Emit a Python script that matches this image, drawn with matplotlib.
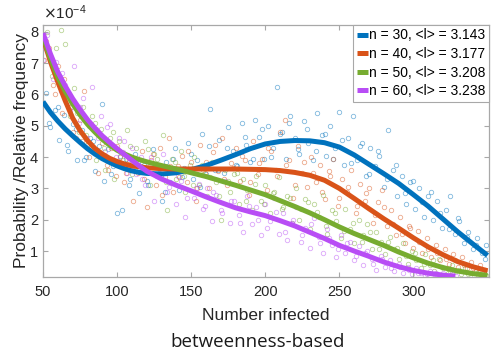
import matplotlib
matplotlib.use("Agg")
import matplotlib.pyplot as plt

# ---------------------------------------------------------------------------
# Data (probability values in units of 1e-4)
# ---------------------------------------------------------------------------
labels = ["n = 30, <l> = 3.143", "n = 40, <l> = 3.177",
          "n = 50, <l> = 3.208", "n = 60, <l> = 3.238"]
colors = ["#0072BD", "#D95319", "#77AC30", "#B84DF5"]

# fitted curves
fit_x = [50, 55, 60, 65, 70, 75, 80, 85, 90, 95, 100, 105, 110, 115, 120,
         130, 140, 150, 160, 170, 180, 190, 200, 210, 220, 230, 240, 250,
         260, 270, 280, 290, 300, 310, 320, 330, 340, 350]
fit_blue = [5.77, 5.43, 5.15, 4.90, 4.68, 4.47, 4.27, 4.10, 3.95, 3.83, 3.72,
            3.63, 3.56, 3.51, 3.48, 3.46, 3.50, 3.60, 3.73, 3.90, 4.08, 4.27,
            4.42, 4.50, 4.53, 4.52, 4.46, 4.32, 4.07, 3.77, 3.47, 3.16, 2.80,
            2.43, 2.02, 1.61, 1.23, 0.86]
fit_orange = [7.80, 7.05, 6.40, 5.80, 5.25, 4.85, 4.53, 4.28, 4.10, 3.96,
              3.86, 3.78, 3.72, 3.69, 3.66, 3.63, 3.62, 3.62, 3.62, 3.62,
              3.62, 3.61, 3.60, 3.57, 3.51, 3.42, 3.26, 3.00, 2.68, 2.35,
              2.03, 1.73, 1.42, 1.13, 0.88, 0.66, 0.50, 0.37]
fit_green = [7.85, 7.15, 6.55, 6.10, 5.70, 5.35, 5.05, 4.80, 4.57, 4.38,
             4.22, 4.10, 4.00, 3.92, 3.85, 3.73, 3.62, 3.50, 3.38, 3.24,
             3.10, 2.95, 2.80, 2.61, 2.42, 2.22, 2.00, 1.77, 1.56, 1.37,
             1.18, 0.97, 0.78, 0.61, 0.47, 0.36, 0.28, 0.22]
fit_x_purple = [50, 55, 60, 65, 70, 75, 80, 85, 90, 95, 100, 105, 110, 115,
                120, 130, 140, 150, 160, 170, 180, 190, 200, 210, 220, 230,
                240, 250, 260, 270, 280, 290, 300, 310, 320, 328]
fit_purple = [7.96, 7.30, 6.72, 6.27, 5.87, 5.52, 5.20, 4.93, 4.68, 4.47,
              4.27, 4.08, 3.90, 3.72, 3.55, 3.30, 3.10, 2.92, 2.73, 2.55,
              2.38, 2.25, 2.13, 1.97, 1.80, 1.60, 1.40, 1.18, 1.00, 0.83,
              0.65, 0.50, 0.38, 0.29, 0.23, 0.19]

# relative frequencies (scatter), two passes per series
sx_blue = [52, 55, 58, 61, 64, 67, 70, 73, 76, 79,
           82, 85, 88, 91, 94, 97, 100, 103, 106, 109,
           112, 115, 118, 121, 124, 127, 130, 133, 136, 139,
           142, 145, 148, 151, 154, 157, 160, 163, 166, 169,
           172, 175, 178, 181, 184, 187, 190, 193, 196, 199,
           202, 205, 208, 211, 214, 217, 220, 223, 226, 229,
           232, 235, 238, 241, 244, 247, 250, 253, 256, 259,
           262, 265, 268, 271, 274, 277, 280, 283, 286, 289,
           292, 295, 298, 301, 304, 307, 310, 313, 316, 319,
           322, 325, 328, 331, 334, 337, 340, 343, 346, 349]
sy_blue = [6.05, 4.95, 5.50, 4.55, 5.35, 4.20, 5.05, 3.90, 4.85, 4.00,
           4.60, 3.55, 4.35, 3.25, 4.25, 3.70, 2.20, 2.30, 3.95, 3.30,
           4.10, 2.85, 3.75, 3.10, 4.25, 3.40, 2.60, 3.85, 3.20, 4.30,
           2.95, 3.65, 4.45, 3.30, 3.90, 4.75, 3.45, 5.55, 3.60, 4.55,
           3.50, 4.95, 4.20, 3.70, 5.10, 4.40, 3.85, 5.20, 4.65, 3.95,
           5.00, 4.30, 6.25, 4.80, 3.95, 5.30, 4.60, 4.10, 5.15, 4.45,
           3.90, 5.40, 4.70, 4.05, 5.00, 4.30, 5.45, 3.75, 4.60, 5.30,
           3.90, 4.45, 3.40, 4.30, 3.70, 4.05, 3.05, 4.85, 3.60, 2.75,
           3.40, 2.50, 3.20, 2.35, 3.00, 2.10, 2.75, 2.00, 2.60, 1.75,
           2.30, 2.75, 1.55, 1.95, 1.25, 1.60, 1.05, 1.40, 0.95, 1.20]
sx_blue_b = [54, 60, 66, 72, 78, 84, 90, 96, 102, 108,
             114, 120, 126, 132, 138, 144, 150, 156, 162, 168,
             174, 180, 186, 192, 198, 204, 210, 216, 222, 228,
             234, 240, 246, 252, 258, 264, 270, 276, 282, 288,
             294, 300, 306, 312, 318, 324, 330, 336, 342, 348]
sy_blue_b = [5.10, 5.60, 4.40, 4.90, 3.90, 4.50, 5.70, 3.45, 4.05, 3.10,
             3.85, 3.25, 3.70, 2.90, 3.95, 3.35, 4.10, 3.05, 4.35, 3.60,
             4.30, 3.75, 4.65, 3.95, 4.90, 4.00, 4.75, 5.10, 4.25, 4.90,
             4.20, 4.75, 3.95, 4.55, 3.80, 4.35, 3.45, 4.20, 3.30, 3.75,
             2.85, 3.25, 2.55, 2.90, 2.20, 1.70, 2.05, 1.45, 1.20, 0.75]

sx_orange = [51, 54, 57, 60, 63, 66, 69, 72, 75, 78,
             81, 84, 87, 90, 93, 96, 99, 102, 105, 108,
             111, 114, 117, 120, 123, 126, 129, 132, 135, 138,
             141, 144, 147, 150, 153, 156, 159, 162, 165, 168,
             171, 174, 177, 180, 183, 186, 189, 192, 195, 198,
             201, 204, 207, 210, 213, 216, 219, 222, 225, 228,
             231, 234, 237, 240, 243, 246, 249, 252, 255, 258,
             261, 264, 267, 270, 273, 276, 279, 282, 285, 288,
             291, 294, 297, 300, 303, 306, 309, 312, 315, 318,
             321, 324, 327, 330, 333, 336, 339, 342, 345, 348]
sy_orange = [7.10, 7.50, 6.30, 6.90, 5.40, 6.05, 5.60, 4.60, 5.20, 6.10,
             4.00, 4.90, 3.50, 4.45, 3.75, 4.30, 3.40, 4.00, 3.20, 3.90,
             2.60, 3.50, 4.20, 2.40, 3.90, 3.10, 4.30, 3.35, 4.60, 2.90,
             3.70, 4.05, 3.20, 3.85, 2.60, 4.40, 3.50, 3.00, 4.15, 3.55,
             4.60, 3.10, 3.80, 4.30, 3.25, 3.90, 2.80, 4.50, 3.45, 3.95,
             2.95, 4.20, 3.60, 4.80, 5.20, 3.90, 2.70, 4.35, 3.50, 3.05,
             4.00, 3.20, 3.75, 2.65, 3.55, 3.95, 2.45, 3.30, 2.90, 3.60,
             2.20, 3.15, 2.60, 3.00, 1.90, 2.55, 2.95, 1.80, 2.30, 1.50,
             2.10, 1.25, 1.80, 1.10, 1.65, 0.95, 1.40, 0.80, 1.20, 0.70,
             1.05, 0.60, 0.90, 0.50, 0.80, 0.45, 0.65, 0.35, 0.55, 0.40]
sx_orange_b = [52, 58, 64, 70, 76, 82, 88, 94, 100, 106,
               112, 118, 124, 130, 136, 142, 148, 154, 160, 166,
               172, 178, 184, 190, 196, 202, 208, 214, 220, 226,
               232, 238, 244, 250, 256, 262, 268, 274, 280, 286,
               292, 298, 304, 310, 316, 322, 328, 334, 340, 346]
sy_orange_b = [7.70, 6.00, 6.50, 4.80, 4.50, 5.00, 4.10, 3.60, 4.35, 3.50,
               3.95, 3.30, 4.10, 2.80, 3.70, 3.35, 4.20, 3.00, 3.85, 4.40,
               3.30, 3.65, 4.05, 3.20, 3.80, 4.30, 3.40, 3.75, 3.10, 3.85,
               3.50, 2.90, 3.40, 2.70, 3.05, 2.45, 2.85, 2.15, 2.40, 1.85,
               1.55, 1.75, 1.30, 1.05, 0.95, 0.75, 0.70, 0.55, 0.45, 0.35]

sx_green = [53, 56, 59, 62, 65, 68, 71, 74, 77, 80,
            83, 86, 89, 92, 95, 98, 101, 104, 107, 110,
            113, 116, 119, 122, 125, 128, 131, 134, 137, 140,
            143, 146, 149, 152, 155, 158, 161, 164, 167, 170,
            173, 176, 179, 182, 185, 188, 191, 194, 197, 200,
            203, 206, 209, 212, 215, 218, 221, 224, 227, 230,
            233, 236, 239, 242, 245, 248, 251, 254, 257, 260,
            263, 266, 269, 272, 275, 278, 281, 284, 287, 290,
            293, 296, 299, 302, 305, 308, 311, 314, 317, 320,
            323, 326, 329, 332, 335, 338, 341, 344, 347, 350]
sy_green = [8.00, 6.60, 7.50, 8.05, 7.60, 5.30, 6.20, 4.80, 5.60, 4.40,
            5.30, 3.90, 4.90, 3.60, 4.60, 3.30, 4.50, 3.90, 4.85, 3.45,
            4.30, 3.70, 4.50, 3.10, 4.10, 3.50, 4.70, 2.30, 3.95, 3.30,
            4.20, 2.90, 3.75, 4.00, 3.10, 3.60, 2.75, 3.85, 3.20, 2.00,
            3.60, 2.90, 3.45, 2.50, 3.30, 2.95, 2.30, 3.40, 2.60, 3.10,
            2.20, 2.90, 3.35, 2.40, 2.75, 1.90, 3.00, 2.35, 2.65, 1.70,
            2.50, 2.10, 2.80, 1.55, 2.30, 1.95, 1.40, 2.35, 1.70, 1.25,
            2.00, 1.50, 1.85, 1.05, 1.60, 1.30, 0.90, 1.45, 1.05, 0.75,
            1.25, 0.60, 1.00, 0.70, 0.45, 0.90, 0.55, 0.35, 0.75, 0.45,
            0.30, 0.55, 0.35, 0.25, 0.45, 0.30, 0.20, 0.35, 0.25, 0.20]
sx_green_b = [55, 61, 67, 73, 79, 85, 91, 97, 103, 109,
              115, 121, 127, 133, 139, 145, 151, 157, 163, 169,
              175, 181, 187, 193, 199, 205, 211, 217, 223, 229,
              235, 241, 247, 253, 259, 265, 271, 277, 283, 289,
              295, 301, 307, 313, 319, 325, 331, 337, 343, 349]
sy_green_b = [7.20, 6.40, 6.00, 5.40, 4.70, 5.10, 4.30, 4.80, 3.75, 4.35,
              3.60, 4.25, 3.95, 3.20, 3.85, 3.40, 3.10, 3.75, 3.35, 2.75,
              3.25, 3.50, 2.60, 3.15, 2.50, 2.85, 2.35, 2.70, 2.00, 2.55,
              2.25, 1.80, 2.20, 1.65, 1.90, 1.30, 1.60, 1.05, 1.30, 1.10,
              0.85, 0.95, 0.60, 0.70, 0.50, 0.35, 0.40, 0.25, 0.30, 0.20]

sx_purple = [50, 53, 56, 59, 62, 65, 68, 71, 74, 77,
             80, 83, 86, 89, 92, 95, 98, 101, 104, 107,
             110, 113, 116, 119, 122, 125, 128, 131, 134, 137,
             140, 143, 146, 149, 152, 155, 158, 161, 164, 167,
             170, 173, 176, 179, 182, 185, 188, 191, 194, 197,
             200, 203, 206, 209, 212, 215, 218, 221, 224, 227,
             230, 233, 236, 239, 242, 245, 248, 251, 254, 257,
             260, 263, 266, 269, 272, 275, 278, 281, 284, 287,
             290, 293, 296, 299, 302, 305, 308, 311, 314, 317,
             320, 323, 326, 329]
sy_purple = [7.10, 7.90, 6.90, 7.05, 6.10, 6.30, 5.50, 6.90, 5.10, 5.90,
             4.60, 6.25, 4.90, 5.30, 4.20, 5.05, 3.80, 4.60, 4.15, 3.50,
             4.30, 3.45, 4.00, 3.10, 3.75, 2.60, 3.40, 4.10, 2.90, 3.60,
             2.50, 3.25, 2.10, 3.55, 2.70, 3.15, 2.35, 3.00, 1.95, 2.80,
             2.30, 3.25, 1.90, 2.60, 2.15, 1.60, 2.75, 1.85, 2.40, 1.50,
             2.50, 1.95, 2.70, 1.55, 2.20, 1.35, 1.90, 2.40, 1.30, 1.75,
             1.10, 2.05, 1.45, 0.95, 1.70, 1.20, 0.80, 1.50, 0.95, 1.30,
             0.70, 1.15, 0.55, 1.00, 0.75, 0.40, 0.85, 0.50, 0.70, 0.35,
             0.60, 0.30, 0.50, 0.25, 0.45, 0.30, 0.20, 0.35, 0.25, 0.20,
             0.30, 0.20, 0.25, 0.20]
sx_purple_b = [51, 57, 63, 69, 75, 81, 87, 93, 99, 105,
               111, 117, 123, 129, 135, 141, 147, 153, 159, 165,
               171, 177, 183, 189, 195, 201, 207, 213, 219, 225,
               231, 237, 243, 249, 255, 261, 267, 273, 279, 285,
               291, 297, 303, 309, 315, 321, 327]
sy_purple_b = [7.50, 6.50, 6.70, 5.80, 5.60, 5.00, 4.60, 4.95, 4.00, 4.50,
               3.70, 3.30, 4.00, 3.50, 3.05, 3.40, 2.70, 3.00, 2.45, 2.90,
               2.20, 2.60, 1.90, 2.45, 2.00, 1.75, 2.25, 1.60, 2.00, 1.50,
               1.85, 1.25, 1.40, 1.05, 1.25, 0.85, 0.95, 0.60, 0.75, 0.45,
               0.50, 0.40, 0.30, 0.25, 0.30, 0.20, 0.22]

x_ticks = [50, 100, 150, 200, 250, 300]
y_ticks = [1, 2, 3, 4, 5, 6, 7, 8]

# ---------------------------------------------------------------------------
# Plot
# ---------------------------------------------------------------------------
plt.rcParams["font.family"] = ["Liberation Sans", "DejaVu Sans"]

W, H = 492, 352
fig = plt.figure(figsize=(W / 100, H / 100), dpi=100)
ax = fig.add_axes([43 / W, 1 - 277 / H, (489 - 43) / W, (277 - 25) / H])

scatters = [(sx_blue + sx_blue_b, sy_blue + sy_blue_b),
            (sx_orange + sx_orange_b, sy_orange + sy_orange_b),
            (sx_green + sx_green_b, sy_green + sy_green_b),
            (sx_purple + sx_purple_b, sy_purple + sy_purple_b)]
for (sx, sy), c in zip(scatters, colors):
    ax.plot(sx, sy, "o", ms=3.2, mfc="none", mec=c, mew=0.6,
            alpha=0.5, zorder=1)

fits = [(fit_x, fit_blue), (fit_x, fit_orange),
        (fit_x, fit_green), (fit_x_purple, fit_purple)]
for (fx, fy), c, lab in zip(fits, colors, labels):
    ax.plot(fx, fy, "-", color=c, lw=3.6, label=lab, zorder=3,
            solid_capstyle="butt")

ax.set_xlim(50, 351)
ax.set_ylim(0.17, 8.22)
ax.set_xticks(x_ticks)
ax.set_yticks(y_ticks)
ax.tick_params(direction="in", length=3.5, width=0.8, top=True, right=True,
               labelsize=10.5, colors="#A8A8A8", labelcolor="#262626")
ax.tick_params(axis="x", pad=6)
for s in ax.spines.values():
    s.set_color("#A8A8A8")
    s.set_linewidth(0.9)

ax.set_xlabel("Number infected", fontsize=12.5, color="#262626", labelpad=6)
ax.set_ylabel("Probability /Relative frequency", fontsize=12.5,
              color="#262626", labelpad=1)

fig.text(43 / W, 1 - 19 / H, r"$\times\mathregular{10^{-4}}$",
         fontsize=11, color="#262626", ha="left", va="baseline")

leg = ax.legend(loc="upper right", fontsize=10, borderaxespad=0,
                fancybox=False, framealpha=1, edgecolor="#A8A8A8",
                handlelength=0.8, handletextpad=0.1, borderpad=0.25,
                labelspacing=0.33)
leg.get_frame().set_linewidth(0.8)

fig.text(258 / W, 1 - 342 / H, "betweenness-based", family="Open Sans",
         fontsize=13.5, color="#1a1a1a", ha="center", va="center")

fig.savefig("out.png", dpi=100)
